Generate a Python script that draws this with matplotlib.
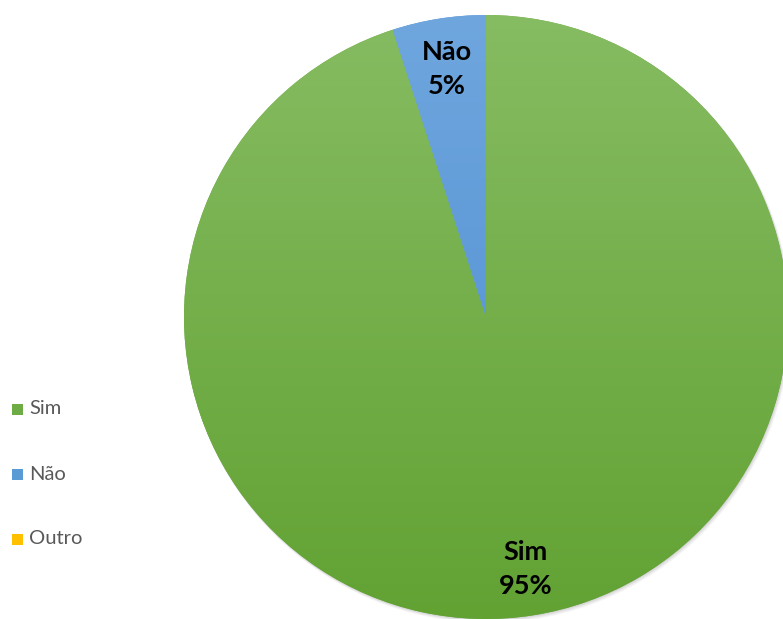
import numpy as np
import matplotlib
matplotlib.use("Agg")
import matplotlib.pyplot as plt
from matplotlib.patches import Circle, Rectangle
from matplotlib.colors import LinearSegmentedColormap

categories = ["Sim", "Não", "Outro"]
values = [95, 5, 0]
top_colors = ["#86BC62", "#6FA6DE", "#FFC000"]
bottom_colors = ["#62A233", "#4A8CD0", "#FFC000"]
legend_colors = ["#6DAB45", "#5B9BD5", "#FFC000"]

W, H = 783, 619
fig = plt.figure(figsize=(W / 100, H / 100), dpi=100)
ax = fig.add_axes([0, 0, 1, 1])

cx, cy, r = 486, H - 317, 302

# soft drop shadow under the pie
for k, a in enumerate([0.04, 0.04, 0.05, 0.06]):
    off = 4 - k
    ax.add_patch(Circle((cx + off * 0.5, cy - off * 0.7), r + 1.0 - k * 0.3,
                        facecolor="#000000", alpha=a, edgecolor="none", zorder=0))

wedges, _ = ax.pie(values, startangle=90, counterclock=False, center=(cx, cy),
                   radius=r, colors=legend_colors,
                   wedgeprops=dict(edgecolor="none", linewidth=0), frame=True)

# vertical gradient fill for each slice
grad = np.linspace(0, 1, 256).reshape(-1, 1)
for w, ct, cb, v in zip(wedges, top_colors, bottom_colors, values):
    if v <= 0:
        continue
    cmap = LinearSegmentedColormap.from_list("g", [cb, ct])
    im = ax.imshow(grad, cmap=cmap, origin="lower", aspect="auto",
                   extent=(cx - r, cx + r, cy - r, cy + r), zorder=2)
    im.set_clip_path(w)

ax.set_xlim(0, W)
ax.set_ylim(0, H)
ax.set_aspect("auto")
ax.axis("off")

# slice labels
lab_font = dict(family=["Lato", "DejaVu Sans"], fontsize=19.5, fontweight="bold",
                color="black", ha="center", va="center", linespacing=1.45, zorder=5)
ax.text(447, H - 69, f"{categories[1]}\n{values[1]}%", **lab_font)
ax.text(526, H - 569, f"{categories[0]}\n{values[0]}%", **lab_font)

# legend
leg_y = [409, 474, 539]
for name, col, y in zip(categories, legend_colors, leg_y):
    ax.add_patch(Rectangle((12, H - y - 5.5), 11, 11, facecolor=col,
                           edgecolor="none", zorder=5))
    ax.text(29, H - y, name, family=["Lato", "DejaVu Sans"], fontsize=14.5,
            color="#595959", ha="left", va="center", zorder=5)

fig.savefig("out.png", dpi=100)
